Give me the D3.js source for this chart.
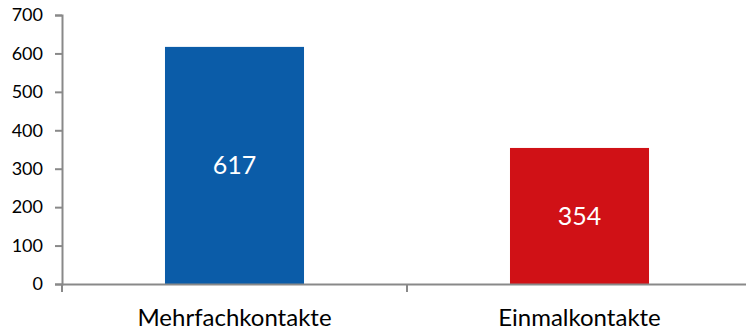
<!DOCTYPE html>
<html><head><meta charset="utf-8">
<script src="https://cdn.jsdelivr.net/npm/d3@7"></script>
<style>body{margin:0;background:#fff}svg{display:block}text{font-family:Lato,"Open Sans",sans-serif}</style>
</head><body><svg id="c" width="746" height="331"></svg>
<script>
const categories = ["Mehrfachkontakte", "Einmalkontakte"];
const values = [617, 354];
const colors = ["#0b5ca8", "#d01116"];
const yTicks = [0, 100, 200, 300, 400, 500, 600, 700];

const svg = d3.select("#c");
const x = d3.scaleBand().domain(categories).range([62, 752]).paddingInner(0).paddingOuter(0);
const y = d3.scaleLinear().domain([0, 700]).range([284, 15]);
const bw = x.bandwidth() * 0.403;
const axisColor = "#898989";

svg.selectAll("rect.bar").data(values).enter().append("rect")
  .attr("x", (d, i) => x(categories[i]) + x.bandwidth() / 2 - bw / 2)
  .attr("y", d => y(d))
  .attr("width", bw)
  .attr("height", d => y(0) - y(d))
  .attr("fill", (d, i) => colors[i]);

svg.selectAll("text.val").data(values).enter().append("text")
  .attr("x", (d, i) => x(categories[i]) + x.bandwidth() / 2)
  .attr("y", d => (y(d) + y(0)) / 2 + 9)
  .attr("text-anchor", "middle")
  .attr("fill", "#fff").attr("font-size", 25)
  .text(d => d);

// y axis
const ya = svg.append("g").attr("transform", "translate(62,0)")
  .call(d3.axisLeft(y).tickValues(yTicks).tickSize(7).tickPadding(12));
ya.select(".domain").attr("stroke", axisColor).attr("stroke-width", 2);
ya.selectAll(".tick line").attr("stroke", axisColor).attr("stroke-width", 2);
ya.selectAll(".tick text").attr("font-size", 18).attr("fill", "#000").attr("font-family", "Lato");

// x axis
const xa = svg.append("g").attr("transform", "translate(0,284)")
  .call(d3.axisBottom(x).tickSize(0).tickPadding(0));
xa.select(".domain").attr("stroke", axisColor).attr("stroke-width", 2);
xa.selectAll(".tick text").attr("font-size", 24).attr("fill", "#000")
  .attr("font-family", "Lato").attr("dy", null).attr("y", 42);
const boundaries = [x.range()[0], x(categories[1])];
xa.selectAll("line.bt").data(boundaries).enter().append("line")
  .attr("x1", d => d).attr("x2", d => d).attr("y1", 0).attr("y2", 8)
  .attr("stroke", axisColor).attr("stroke-width", 2);
</script></body></html>
